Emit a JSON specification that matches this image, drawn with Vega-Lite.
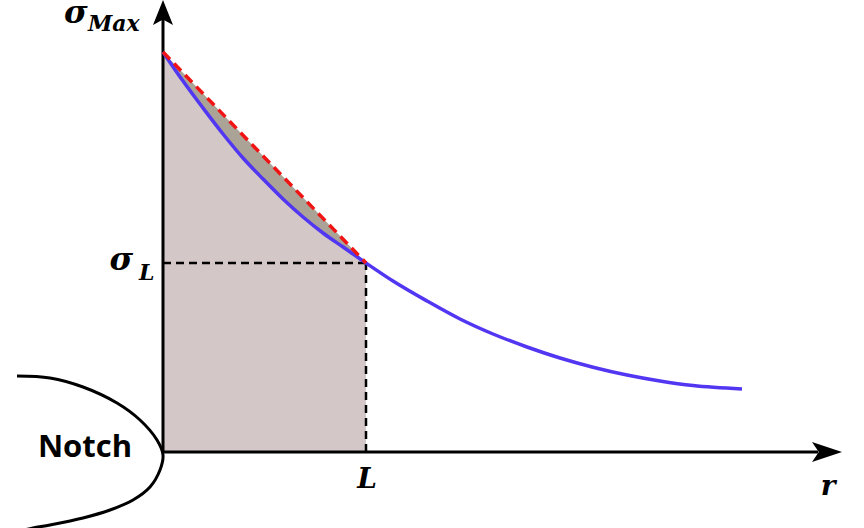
{
  "$schema": "https://vega.github.io/schema/vega-lite/v6.json",
  "width": 864,
  "height": 528,
  "autosize": "none",
  "padding": 0,
  "background": "white",
  "config": {"view": {"stroke": null}},
  "datasets": {
    "curve": [
      {"r": 0.0, "s": 4.0},
      {"r": 0.2, "s": 3.71},
      {"r": 0.4, "s": 3.44},
      {"r": 0.6, "s": 3.18},
      {"r": 0.8, "s": 2.94},
      {"r": 1.0, "s": 2.73},
      {"r": 1.2, "s": 2.53},
      {"r": 1.4, "s": 2.35},
      {"r": 1.6, "s": 2.19},
      {"r": 1.8, "s": 2.05},
      {"r": 2.03, "s": 1.89},
      {"r": 2.30, "s": 1.71},
      {"r": 2.64, "s": 1.51},
      {"r": 2.97, "s": 1.33},
      {"r": 3.30, "s": 1.18},
      {"r": 3.64, "s": 1.05},
      {"r": 3.97, "s": 0.94},
      {"r": 4.30, "s": 0.848},
      {"r": 4.64, "s": 0.77},
      {"r": 4.97, "s": 0.71},
      {"r": 5.30, "s": 0.664},
      {"r": 5.79, "s": 0.63}
    ],
    "tangent": [
      {"r": 0.0, "s": 4.0},
      {"r": 2.03, "s": 1.89}
    ],
    "notch": [
      {"i": 1, "r": -1.46, "s": 0.76},
      {"i": 2, "r": -1.13, "s": 0.74},
      {"i": 3, "r": -0.80, "s": 0.65},
      {"i": 4, "r": -0.46, "s": 0.49},
      {"i": 5, "r": -0.23, "s": 0.32},
      {"i": 6, "r": -0.06, "s": 0.12},
      {"i": 7, "r": 0.0, "s": -0.03},
      {"i": 8, "r": -0.03, "s": -0.18},
      {"i": 9, "r": -0.13, "s": -0.35},
      {"i": 10, "r": -0.30, "s": -0.48},
      {"i": 11, "r": -0.53, "s": -0.58},
      {"i": 12, "r": -0.80, "s": -0.66},
      {"i": 13, "r": -1.13, "s": -0.73},
      {"i": 14, "r": -1.30, "s": -0.76},
      {"i": 15, "r": -1.43, "s": -0.79}
    ],
    "axes": [
      {"r": 0, "s": 0, "r2": 0, "s2": 4.34},
      {"r": 0, "s": 0, "r2": 6.55, "s2": 0}
    ],
    "guides": [
      {"r": 0, "s": 1.89, "r2": 2.03, "s2": 1.89},
      {"r": 2.03, "s": 0, "r2": 2.03, "s2": 1.89}
    ],
    "arrowUp": [{"r": 0, "s": 4.395}],
    "arrowRight": [{"r": 6.64, "s": 0}],
    "sigmas": [
      {"r": -0.755, "s": 4.29, "t": "σ"},
      {"r": -0.30, "s": 1.82, "t": "σ"}
    ],
    "subs": [
      {"r": -0.75, "s": 4.21, "t": "Max"},
      {"r": -0.24, "s": 1.72, "t": "L"}
    ],
    "axisNames": [
      {"r": 2.04, "s": -0.36, "t": "L"},
      {"r": 6.65, "s": -0.43, "t": "r"}
    ],
    "notchLabel": [{"r": -0.78, "s": 0.04, "t": "Notch"}]
  },
  "encoding": {
    "x": {"field": "r", "type": "quantitative", "scale": {"domain": [-1.63, 7.01], "nice": false, "zero": false}, "axis": null},
    "y": {"field": "s", "type": "quantitative", "scale": {"domain": [-0.76, 4.52], "nice": false, "zero": false}, "axis": null}
  },
  "layer": [
    {
      "data": {"name": "tangent"},
      "mark": {"type": "area", "color": "#aba395", "opacity": 1},
      "encoding": {"y2": {"datum": 0}}
    },
    {
      "data": {"name": "curve"},
      "transform": [{"filter": "datum.r <= 2.03"}],
      "mark": {"type": "area", "color": "#d3c7c7", "opacity": 1, "interpolate": "monotone"},
      "encoding": {"y2": {"datum": 0}}
    },
    {
      "data": {"name": "axes"},
      "mark": {"type": "rule", "color": "black", "strokeWidth": 3},
      "encoding": {"x2": {"field": "r2"}, "y2": {"field": "s2"}}
    },
    {
      "data": {"name": "guides"},
      "mark": {"type": "rule", "color": "black", "strokeWidth": 2.5, "strokeDash": [8, 5]},
      "encoding": {"x2": {"field": "r2"}, "y2": {"field": "s2"}}
    },
    {
      "data": {"name": "curve"},
      "mark": {"type": "line", "color": "#5136f2", "strokeWidth": 3.5, "interpolate": "monotone"},
      "encoding": {}
    },
    {
      "data": {"name": "tangent"},
      "mark": {"type": "line", "color": "#f01414", "strokeWidth": 3.5, "strokeDash": [10, 6]},
      "encoding": {}
    },
    {
      "data": {"name": "notch"},
      "mark": {"type": "line", "color": "black", "strokeWidth": 3, "interpolate": "catmull-rom"},
      "encoding": {"order": {"field": "i", "type": "quantitative"}}
    },
    {
      "data": {"name": "arrowUp"},
      "mark": {"type": "point", "shape": "M0,-1 L0.8,1 L0,0.55 L-0.8,1 Z", "size": 625, "filled": true, "color": "black", "opacity": 1, "strokeWidth": 0}
    },
    {
      "data": {"name": "arrowRight"},
      "mark": {"type": "point", "shape": "M1,0 L-1,-0.67 L-0.55,0 L-1,0.67 Z", "size": 900, "filled": true, "color": "black", "opacity": 1, "strokeWidth": 0}
    },
    {
      "data": {"name": "sigmas"},
      "mark": {"type": "text", "font": "DejaVu Serif", "fontStyle": "italic", "fontWeight": "bold", "fontSize": 32, "align": "right", "baseline": "alphabetic", "color": "black"},
      "encoding": {"text": {"field": "t"}}
    },
    {
      "data": {"name": "subs"},
      "mark": {"type": "text", "font": "DejaVu Serif", "fontStyle": "italic", "fontWeight": "bold", "fontSize": 22, "align": "left", "baseline": "alphabetic", "color": "black"},
      "encoding": {"text": {"field": "t"}}
    },
    {
      "data": {"name": "axisNames"},
      "mark": {"type": "text", "font": "DejaVu Serif", "fontStyle": "italic", "fontWeight": "bold", "fontSize": 28, "align": "center", "baseline": "alphabetic", "color": "black"},
      "encoding": {"text": {"field": "t"}}
    },
    {
      "data": {"name": "notchLabel"},
      "mark": {"type": "text", "font": "Open Sans", "fontWeight": "bold", "fontSize": 31, "align": "center", "baseline": "middle", "color": "black"},
      "encoding": {"text": {"field": "t"}}
    }
  ]
}
